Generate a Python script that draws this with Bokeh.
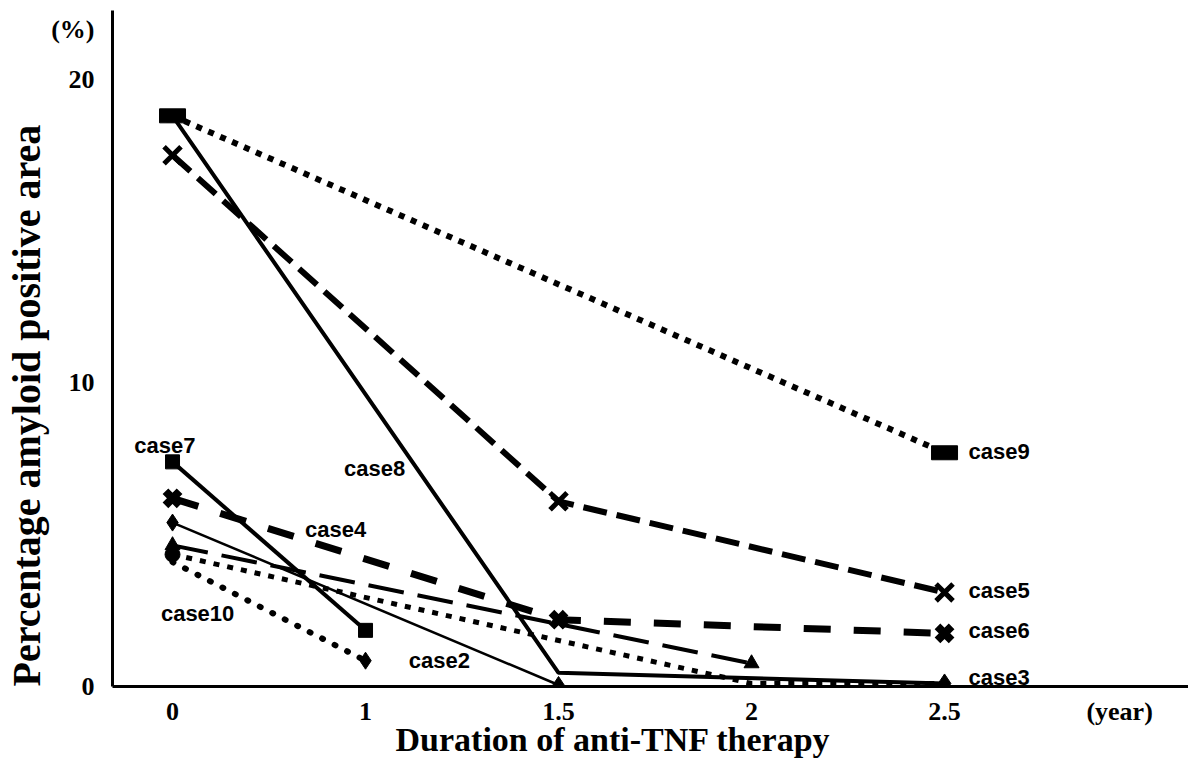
from bokeh.plotting import figure
from bokeh.models import Range1d, FixedTicker, Label, Title
from bokeh.embed import file_html
from bokeh.resources import INLINE

# ---- data (years on an ordinal axis) ----
years = [0, 1, 1.5, 2, 2.5]
year_labels = ["0", "1", "1.5", "2", "2.5"]
pos = {yr: i for i, yr in enumerate(years)}

case9_years = [0, 2.5];        case9_vals = [18.8, 7.7]
case8_years = [0, 1.5, 2.5];   case8_vals = [18.8, 0.45, 0.1]
case5_years = [0, 1.5, 2.5];   case5_vals = [17.5, 6.1, 3.1]
case6_years = [0, 1.5, 2.5];   case6_vals = [6.2, 2.2, 1.75]
case7_years = [0, 1];          case7_vals = [7.4, 1.85]
case2_years = [0, 1.5];        case2_vals = [5.4, 0.05]
case4_years = [0, 2];          case4_vals = [4.65, 0.76]
case3_years = [0, 2, 2.5];     case3_vals = [4.35, 0.1, 0.1]
case10_years = [0, 1];         case10_vals = [4.1, 0.85]

y_ticks = [0, 10, 20]
y_unit = "(%)"
x_unit = "(year)"

case_names = ["case7", "case8", "case4", "case10", "case2", "case9", "case5", "case6", "case3"]
name_x = [-0.04, 1.047, 0.845, 0.13, 1.383, 4.124, 4.124, 4.124, 4.124]
name_y = [7.94, 7.18, 5.17, 2.4, 0.86, 7.74, 3.16, 1.85, 0.3]
name_align = ["center", "center", "center", "center", "center", "left", "left", "left", "left"]

W, H = 1188, 761
p = figure(width=W, height=H, output_backend="svg", toolbar_location=None,
           x_range=Range1d(-0.311, 5.264), y_range=Range1d(0, 22.27),
           min_border_left=112, min_border_right=0, min_border_top=10, min_border_bottom=75)
p.grid.visible = False
p.outline_line_color = None
p.background_fill_color = "white"
p.border_fill_color = "white"

for ax in (p.xaxis[0], p.yaxis[0]):
    ax.axis_line_width = 3
    ax.axis_line_color = "black"
    ax.major_tick_in = 0
    ax.major_tick_out = 0
    ax.minor_tick_in = 0
    ax.minor_tick_out = 0
    ax.major_label_text_font = "Liberation Serif"
    ax.major_label_text_font_style = "bold"
    ax.major_label_text_font_size = "26px"
    ax.major_label_text_color = "black"

x_unit_pos = 4.907
y_unit_pos = 21.65
p.xaxis[0].ticker = FixedTicker(ticks=list(range(len(years))) + [x_unit_pos])
ov = {i: lab for i, lab in enumerate(year_labels)}
ov[x_unit_pos] = x_unit
p.xaxis[0].major_label_overrides = ov
p.xaxis[0].major_label_standoff = 10
p.yaxis[0].ticker = FixedTicker(ticks=y_ticks + [y_unit_pos])
p.yaxis[0].major_label_overrides = {y_unit_pos: y_unit}
p.yaxis[0].major_label_standoff = 18

p.add_layout(Title(text="Duration of anti-TNF therapy", align="left", offset=283, standoff=-16,
                   vertical_align="top",
                   text_font="Liberation Serif", text_font_style="bold", text_font_size="34px",
                   text_color="black"), "below")
p.add_layout(Title(text="Percentage amyloid positive area", align="left", offset=0, standoff=0,
                   text_font="Liberation Serif", text_font_style="bold", text_font_size="40px",
                   text_color="black"), "left")


def X(yrs):
    return [pos[v] for v in yrs]

# lines
p.line(X(case9_years), case9_vals, line_color="black", line_width=6, line_dash="6 7")
p.line(X(case8_years), case8_vals, line_color="black", line_width=4)
p.line(X(case5_years), case5_vals, line_color="black", line_width=6, line_dash="24 10")
p.line(X(case6_years), case6_vals, line_color="black", line_width=7, line_dash="27 23")
p.line(X(case7_years), case7_vals, line_color="black", line_width=4)
p.line(X(case2_years), case2_vals, line_color="black", line_width=2.5)
p.line(X(case4_years), case4_vals, line_color="black", line_width=4, line_dash="36 14")
p.line(X(case3_years), case3_vals, line_color="black", line_width=5, line_dash="6 8")
p.line(X(case10_years), case10_vals, line_color="black", line_width=6, line_dash="1 13", line_cap="round")

# markers
p.rect(X(case9_years), case9_vals, width=26, height=14, width_units="screen", height_units="screen",
       fill_color="black", line_color="black")
p.scatter(X(case8_years[:1]), case8_vals[:1], marker="square", size=12, color="black")
p.scatter(X(case5_years), case5_vals, marker="x", size=24, line_width=5, color="black")
p.scatter(X(case6_years), case6_vals, marker="x", size=20, line_width=8, color="black")
p.scatter(X(case7_years), case7_vals, marker="square", size=14, color="black")
p.scatter(X(case2_years), case2_vals, marker="diamond", size=17, color="black")
p.scatter(X(case4_years), case4_vals, marker="triangle", size=15, color="black")
p.scatter(X(case3_years[:1]), case3_vals[:1], marker="circle", size=15, color="black")
p.scatter(X(case3_years[-1:]), case3_vals[-1:], marker="diamond", size=19, color="black")
p.scatter(X(case10_years[-1:]), case10_vals[-1:], marker="diamond", size=17, color="black")

# case labels
for nm, nx, ny, al in zip(case_names, name_x, name_y, name_align):
    p.add_layout(Label(x=nx, y=ny, text=nm, text_font="Liberation Sans", text_font_style="bold",
                       text_font_size="22px", text_align=al, text_baseline="middle", text_color="black"))

open("out.html", "w").write(file_html(p, INLINE))
